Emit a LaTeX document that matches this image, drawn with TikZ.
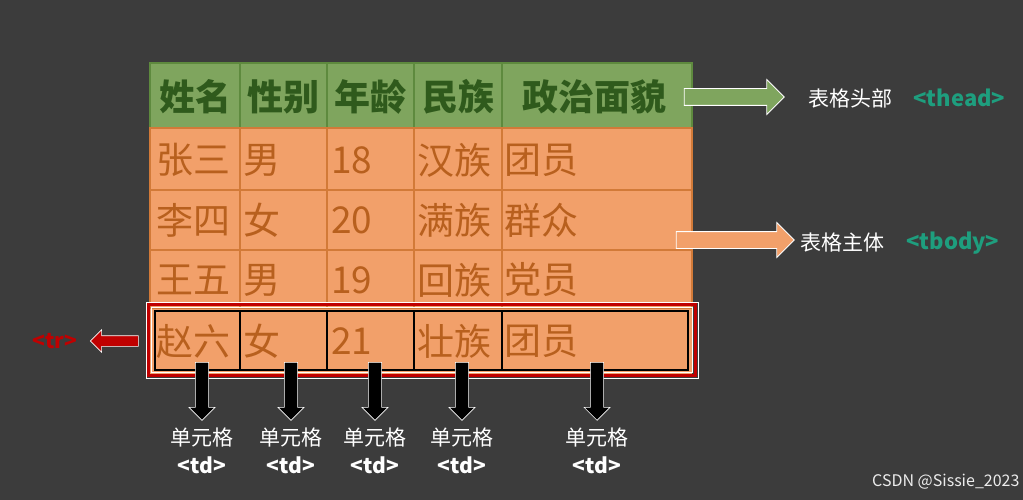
\documentclass[tikz,border=0pt]{standalone}
\usepackage{fontspec}
\setmainfont{Noto Sans CJK SC}
\usetikzlibrary{shapes.arrows}
\definecolor{bg}{HTML}{3C3C3C}
\definecolor{hdfill}{HTML}{7FA55E}
\definecolor{hdline}{HTML}{5E8A3E}
\definecolor{hdtext}{HTML}{2F5A1C}
\definecolor{bdfill}{HTML}{F2A06A}
\definecolor{bdline}{HTML}{D27A38}
\definecolor{bdtext}{HTML}{B8601E}
\definecolor{teal}{HTML}{1E9E7E}
\definecolor{redb}{HTML}{C00000}
\tikzset{
 hcell/.style={font=\bfseries\fontsize{36}{36}\selectfont,text=hdtext,anchor=center},
 bcell/.style={font=\fontsize{37}{37}\selectfont,text=bdtext,anchor=west,inner sep=0pt},
 lbl/.style={font=\fontsize{21}{21}\selectfont,text=white},
 tdl/.style={font=\bfseries\fontsize{21}{21}\selectfont,text=white},
 darr/.style={draw=white,fill=black,line width=0.6pt,single arrow,single arrow head extend=6pt,minimum height=58pt,minimum width=26pt,inner sep=6pt,rotate=-90,anchor=center},
 barr/.style={draw=white,line width=0.8pt,single arrow,single arrow head extend=9pt,minimum width=34pt,inner sep=8pt}
}
\begin{document}
\begin{tikzpicture}[x=1pt,y=-1pt]
\fill[bg] (0,0) rectangle (1023,500);
\useasboundingbox (0,0) rectangle (1023,500);
% header
\fill[hdfill] (150,63) rectangle (692,128);
\draw[hdline,line width=2pt] (150,63) rectangle (692,128);
\foreach \x in {240,327,414,502} \draw[hdline,line width=2pt] (\x,63)--(\x,128);
\node[hcell] (h1) at (195,97) {姓名};
\node[hcell] (h2) at (283,97) {性别};
\node[hcell] (h3) at (370,97) {年龄};
\node[hcell] (h4) at (458,97) {民族};
\node[hcell] (h5) at (594,97) {政治面貌};
% body
\fill[bdfill] (150,128) rectangle (692,375);
\draw[bdline,line width=2pt] (150,128) rectangle (692,308);
\foreach \y in {190,250} \draw[bdline,line width=2pt] (150,\y)--(692,\y);
\foreach \x in {240,327,414,502} \draw[bdline,line width=2pt] (\x,128)--(\x,308);
\foreach \r/\y/\a/\b/\c/\d/\e in {1/160/张三/男/18/汉族/团员,2/220/李四/女/20/满族/群众,3/280/王五/男/19/回族/党员,4/341/赵六/女/21/壮族/团员}{
 \node[bcell] (c\r a) at (156,\y) {\a};
 \node[bcell] (c\r b) at (243,\y) {\b};
 \node[bcell] (c\r c) at (331,\y) {\c};
 \node[bcell] (c\r d) at (417,\y) {\d};
 \node[bcell] (c\r e) at (504,\y) {\e};
}
% tr row borders
\draw[white,line width=1pt] (146,302) rectangle (698,378);
\draw[redb,line width=3pt] (148.5,304.5) rectangle (695.5,375.5);
\draw[white,line width=1pt] (151.5,307.5) rectangle (692.5,372.5);
\draw[black,line width=2.5pt] (155,311) rectangle (688,370);
\foreach \x in {240,327,414,502} \draw[black,line width=2.5pt] (\x,311)--(\x,370);
% side arrows
\node[barr,fill=hdfill,minimum height=100pt] (ah) at (730,97) {};
\node[barr,fill=bdfill,minimum height=118pt] (ab) at (731,240) {};
\node[lbl,anchor=west] (th) at (805,98) {表格头部};
\node[anchor=west,text=teal,font=\bfseries\fontsize{22}{22}\selectfont] (tht) at (910,98) {<thead>};
\node[lbl,anchor=west] (tb) at (797,243) {表格主体};
\node[anchor=west,text=teal,font=\bfseries\fontsize{22}{22}\selectfont] (tbt) at (903,243) {<tbody>};
\node[draw=white,fill=redb,line width=0.6pt,single arrow,single arrow head extend=6pt,minimum height=48pt,minimum width=22pt,inner sep=5pt,shape border rotate=180] (ar) at (117,341) {};
\node[text=redb,font=\bfseries\fontsize{21}{21}\selectfont] (trl) at (55,341) {<tr>};
% down arrows and labels
\foreach \i/\x in {1/202,2/291,3/375,4/462,5/597}{
 \node[darr] (d\i) at (\x,388) {};
 \node[lbl] (u\i) at (\x,438) {单元格};
 \node[tdl] (t\i) at (\x,465) {<td>};
}
\node[text=white!85!gray,anchor=east,font=\fontsize{16}{16}\selectfont] (wm) at (1023,482) {CSDN @Sissie\_2023};
\end{tikzpicture}
\end{document}
